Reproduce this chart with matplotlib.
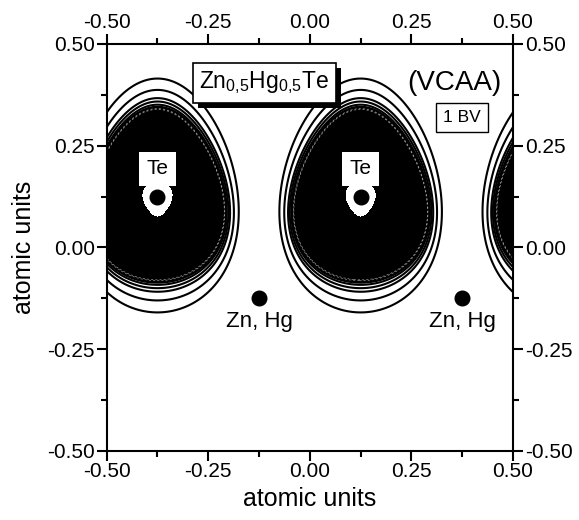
import numpy as np
import matplotlib
matplotlib.use("Agg")
import matplotlib.pyplot as plt
import matplotlib.patheffects as pe
from matplotlib.ticker import MultipleLocator, FormatStrFormatter

plt.rcParams['font.family'] = ['Liberation Sans', 'DejaVu Sans']
plt.rcParams['mathtext.fontset'] = 'custom'
plt.rcParams['mathtext.rm'] = 'Liberation Sans'
plt.rcParams['mathtext.it'] = 'Liberation Sans:italic'
plt.rcParams['axes.unicode_minus'] = False

# Atom positions (atomic units)
te_x = [-0.375, 0.125, 0.625]
te_y = [0.125, 0.125, 0.125]
zn_x = [-0.125, 0.375]
zn_y = [-0.125, -0.125]

# Egg-shaped charge envelopes around Te: half-width, half-height, centre shift, taper
outer_egg = [0.198, 0.2875, 0.0025, 0.50]   # outermost contour
inner_egg = [0.163, 0.2135, 0.0045, 1.00]   # edge of the dense core

# Contour levels, 0 = edge of the dense core, 1 = outermost line
line_levels = [0.05, 0.14, 0.27, 0.40, 0.68, 1.00]
# Faint gaps between the densest lines inside the core
core_levels = [-0.075, -0.035]

# Depletion around the Te core (semi-axes, vertical shift)
hole_shape = [0.034, 0.040, -0.008]

ticks = [-0.50, -0.25, 0.00, 0.25, 0.50]


def egg(dx, dy, params):
    a, b, yc, k = params
    v = dy - yc
    w = a * np.clip(1 - k * v, 0.2, None)
    return np.hypot(dx / w, v / b)


x = np.linspace(-0.5, 0.5, 1001)
y = np.linspace(-0.5, 0.5, 1001)
X, Y = np.meshgrid(x, y)

Q = np.full(X.shape, np.inf)
H = np.full(X.shape, np.inf)
for tx, ty in zip(te_x, te_y):
    dx = X - tx
    dy = Y - ty
    e_in = egg(dx, dy, inner_egg)
    e_out = egg(dx, dy, outer_egg)
    q = (e_in - 1.0) / np.maximum(e_in - e_out, 1e-9)
    Q = np.minimum(Q, q)
    ha, hb, hs = hole_shape
    hy = dy - hs
    width = ha * (1 + 0.35 * np.clip(hy / hb, -1, 1))
    H = np.minimum(H, np.hypot(dx / width, hy / hb))

fig = plt.figure(figsize=(5.79, 5.20), dpi=100)
ax = fig.add_axes([0.1843, 0.1333, 0.7017, 0.7821])

ax.contourf(X, Y, Q, levels=[-1e9, 0.0], colors='black')
ax.contour(X, Y, Q, levels=line_levels, colors='black', linewidths=1.5)
ax.contour(X, Y, Q, levels=core_levels, colors='white', linewidths=0.5,
           linestyles=[(0, (3, 3))], alpha=0.6)
ax.contourf(X, Y, H, levels=[0, 1], colors='white')

for tx, ty in zip(te_x, te_y):
    if tx <= 0.5:
        ax.text(tx, ty + 0.068, 'Te', ha='center', va='center', fontsize=15,
                bbox=dict(boxstyle='square,pad=0.35', fc='white', ec='none'), zorder=4)
ax.plot(te_x, te_y, 'o', color='black', ms=10.5, zorder=5)

ax.plot(zn_x, zn_y, 'o', color='black', ms=10.5, zorder=5)
for zx, zy in zip(zn_x, zn_y):
    ax.text(zx, zy - 0.057, 'Zn, Hg', ha='center', va='center', fontsize=16, zorder=5)

title = ax.text(-0.112, 0.404, r'Zn$_{0{,}5}$Hg$_{0{,}5}$Te', ha='center', va='center',
                fontsize=16.5, zorder=7,
                bbox=dict(boxstyle='square,pad=0.28', fc='white', ec='black', lw=1.2))
title.get_bbox_patch().set_path_effects([
    pe.SimplePatchShadow(offset=(3.6, -3.6), shadow_rgbFace='black', alpha=1.0),
    pe.Normal()])

ax.text(0.355, 0.403, '(VCAA)', ha='center', va='center', fontsize=20, zorder=6)
ax.text(0.375, 0.320, '1 BV', ha='center', va='center', fontsize=12.5, zorder=6,
        bbox=dict(boxstyle='square,pad=0.4', fc='white', ec='black', lw=1.0))

ax.set_xlim(-0.5, 0.5)
ax.set_ylim(-0.5, 0.5)
ax.set_xticks(ticks)
ax.set_yticks(ticks)
ax.xaxis.set_minor_locator(MultipleLocator(0.125))
ax.yaxis.set_minor_locator(MultipleLocator(0.125))
ax.xaxis.set_major_formatter(FormatStrFormatter('%.2f'))
ax.yaxis.set_major_formatter(FormatStrFormatter('%.2f'))
ax.tick_params(which='both', direction='out', top=True, right=True,
               labeltop=True, labelright=True, width=1.5, labelsize=15, pad=1.5)
ax.tick_params(which='major', length=7)
ax.tick_params(which='minor', length=4.5)
for sp in ax.spines.values():
    sp.set_linewidth(1.5)

ax.set_xlabel('atomic units', fontsize=18, labelpad=4)
ax.set_ylabel('atomic units', fontsize=18, labelpad=8)

fig.savefig('out.png', dpi=100)
